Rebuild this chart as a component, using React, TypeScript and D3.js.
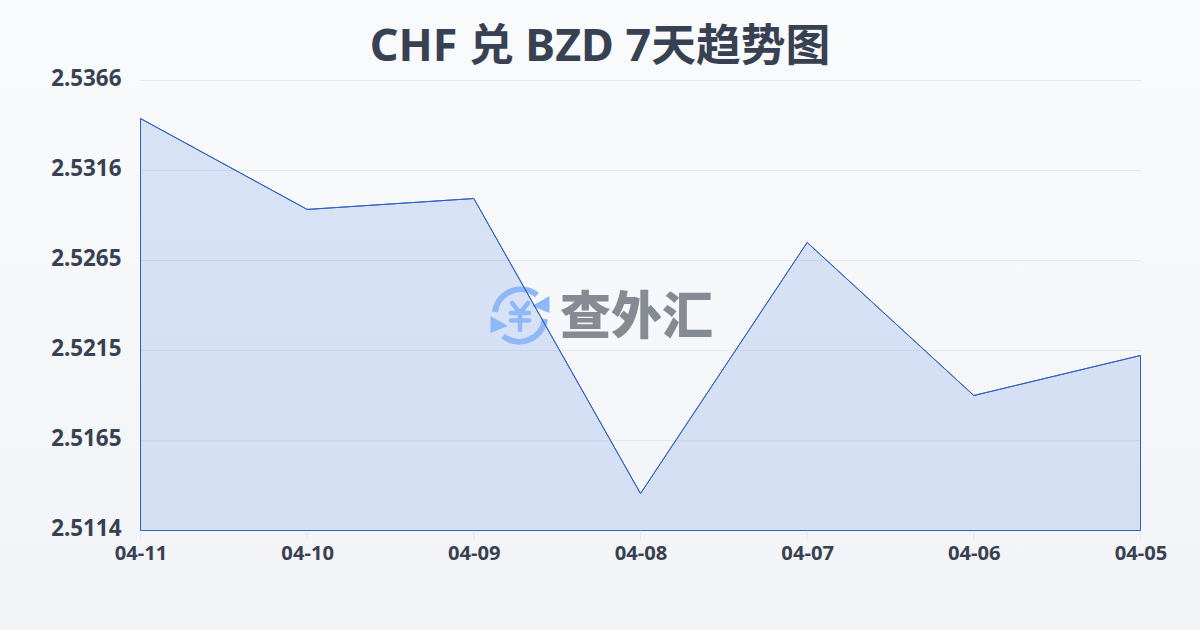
import React from "react";
import * as d3 from "d3";

const dates = ["04-11", "04-10", "04-09", "04-08", "04-07", "04-06", "04-05"];
const rates = [2.53447, 2.52938, 2.52999, 2.51347, 2.52753, 2.51896, 2.5212];
const yTicks = [2.5366, 2.5316, 2.5265, 2.5215, 2.5165, 2.5114];
const title = "CHF 兑 BZD 7天趋势图";
const brand = "查外汇";

const W = 1200, H = 630;
const FONT = "'Noto Sans', 'Noto Sans CJK SC', sans-serif";
const INK = "#374151";
const STROKE = "#3060c4";
const FILL = "#2a62dc";
const ICON = "#8fb8f8";

export default function App() {
  const x = d3.scalePoint<string>().domain(dates).range([140.5, 1140.5]);
  const y = d3.scaleLinear().domain([2.5114, 2.5366]).range([530.5, 80.5]);
  const gridY = d3.scaleLinear().domain([0, yTicks.length - 1]).range([80.5, 530.5]);
  const pts: [number, number][] = dates.map((d, i) => [x(d)!, y(rates[i])]);
  const line = d3.line()(pts)!;
  const area = d3.area<[number, number]>().x(p => p[0]).y0(530.5).y1(p => p[1])(pts)!;
  return (
    <svg width={W} height={H} viewBox={`0 0 ${W} ${H}`} style={{ position: "fixed", left: 0, top: 0, display: "block" }}>
      <defs>
        <linearGradient id="bg" x1="0" y1="0" x2="0" y2="1">
          <stop offset="0" stopColor="#f9fafc" />
          <stop offset="1" stopColor="#f3f4f7" />
        </linearGradient>
      </defs>
      <rect width={W} height={H} fill="url(#bg)" />
      <text x={600} y={61} textAnchor="middle" fontFamily={FONT} fontWeight={700} fontSize={44.8} fill={INK}>{title}</text>
      {yTicks.map((t, i) => (
        <g key={t}>
          <line x1={140} x2={1141} y1={gridY(i)} y2={gridY(i)} stroke="#e5e7eb" strokeWidth={1} />
          <text x={121.5} y={gridY(i) + 5.5} textAnchor="end" fontFamily={FONT} fontWeight={700} fontSize={22.4} fill={INK}>{t.toFixed(4)}</text>
        </g>
      ))}
      {dates.map(d => (
        <g key={d}>
          <line x1={x(d)} x2={x(d)} y1={530} y2={540} stroke="#e5e7eb" strokeWidth={1} />
          <text x={x(d)! + 0.5} y={560} textAnchor="middle" fontFamily={FONT} fontWeight={700} fontSize={20.2} fill={INK}>{d}</text>
        </g>
      ))}
      <path d={area} fill={FILL} fillOpacity={0.15} />
      <g>
        <g fill="none" stroke={ICON} strokeWidth={6}>
          <path d="M495,312 A26,26 0 0 1 537,295" />
          <path d="M545,319 A26,26 0 0 1 503,336" />
        </g>
        <path d="M549.5,296 L549.5,313 L532,306 Z" fill={ICON} />
        <path d="M490.5,316 L490.5,333 L508,326 Z" fill={ICON} />
        <g fill="none" stroke={ICON} strokeWidth={4.5} strokeLinecap="round">
          <path d="M512,303 L520,313 L528,303" />
          <path d="M511,313 L529,313 M511,320.5 L529,320.5 M520,313 L520,330" />
        </g>
        <text x={560} y={334} fontFamily="'Noto Sans CJK SC', sans-serif" fontWeight={900} fontSize={51} fill="#868b93">{brand}</text>
      </g>
      <path d={area} fill="none" stroke={STROKE} strokeWidth={1} />
      <path d={line} fill="none" stroke={STROKE} strokeWidth={1} />
    </svg>
  );
}
